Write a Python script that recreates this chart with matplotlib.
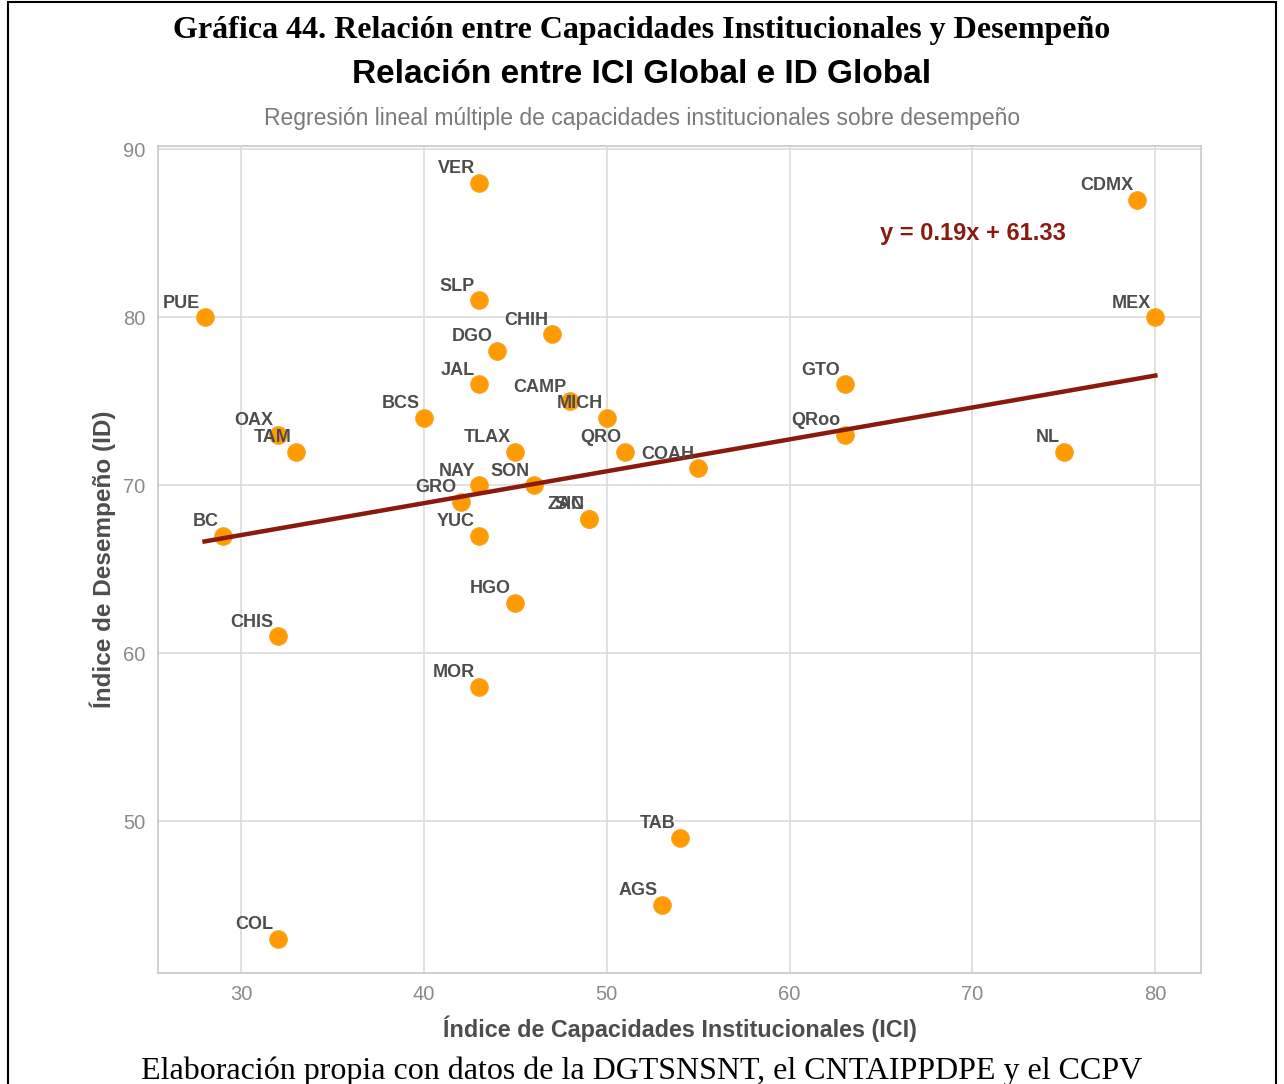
import numpy as np
import matplotlib
matplotlib.use("Agg")
import matplotlib.pyplot as plt
from matplotlib.patches import Rectangle

# state abbreviations, ICI (x) and ID (y)
states = ["VER", "CDMX", "SLP", "PUE", "MEX", "CHIH", "DGO", "JAL", "GTO", "CAMP",
          "BCS", "MICH", "OAX", "QRoo", "TAM", "TLAX", "QRO", "NL", "COAH", "NAY",
          "SON", "GRO", "ZAC", "SIN", "BC", "YUC", "HGO", "CHIS", "MOR", "TAB",
          "AGS", "COL"]
ici = [43, 79, 43, 28, 80, 47, 44, 43, 63, 48,
       40, 50, 32, 63, 33, 45, 51, 75, 55, 43,
       46, 42, 49, 49, 29, 43, 45, 32, 43, 54,
       53, 32]
id_ = [88, 87, 81, 80, 80, 79, 78, 76, 76, 75,
       74, 74, 73, 73, 72, 72, 72, 72, 71, 70,
       70, 69, 68, 68, 67, 67, 63, 61, 58, 49,
       45, 43]
slope, intercept = 0.19, 61.33

xticks = [30, 40, 50, 60, 70, 80]
yticks = [50, 60, 70, 80, 90]

GRAY_TXT = "#4d4d4d"
ORANGE = "#FF9A00"
RED = "#8B1A0E"

fig = plt.figure(figsize=(12.84, 10.84), dpi=100)
ax = fig.add_axes([0.123, 0.1024, 0.8124, 0.7629])

x = np.array(ici, dtype=float)
y = np.array(id_, dtype=float)

ax.scatter(x, y, s=160, color=ORANGE, edgecolor="#F5A623", linewidth=0.8, zorder=3)
xs = np.array([x.min(), x.max()])
ax.plot(xs, slope * xs + intercept, color=RED, lw=3.2, zorder=4)

for name, xi, yi in zip(states, x, y):
    ax.annotate(name, (xi, yi), xytext=(-3, 4), textcoords="offset points",
                ha="right", va="bottom", fontsize=13, fontweight="bold",
                color=GRAY_TXT, family="Liberation Sans", zorder=5)

ax.text(70, 85, f"y = {slope:.2f}x + {intercept:.2f}", ha="center", va="center",
        fontsize=17, fontweight="bold", color=RED, family="Liberation Sans")

ax.set_xlim(25.45, 82.5)
ax.set_ylim(40.95, 90.2)
ax.set_xticks(xticks)
ax.set_yticks(yticks)
ax.grid(True, color="#dcdcdc", lw=1.2)
ax.set_axisbelow(True)
for sp in ax.spines.values():
    sp.set_color("#c8c8c8")
    sp.set_linewidth(1.2)
ax.tick_params(length=0, pad=9, labelsize=14.5, labelcolor="#8a8a8a")
for lab in ax.get_xticklabels() + ax.get_yticklabels():
    lab.set_family("Liberation Sans")

ax.set_xlabel("Índice de Capacidades Institucionales (ICI)", fontsize=16.8,
              fontweight="bold", color=GRAY_TXT, family="Liberation Sans", labelpad=8)
ax.set_ylabel("Índice de Desempeño (ID)", fontsize=17.5, fontweight="bold",
              color=GRAY_TXT, family="Liberation Sans", labelpad=5)

fig.text(0.5, 0.972, "Gráfica 44. Relación entre Capacidades Institucionales y Desempeño",
         ha="center", va="center", fontsize=23, fontweight="bold", family="Liberation Serif")
fig.text(0.5, 0.931, "Relación entre ICI Global e ID Global", ha="center", va="center",
         fontsize=24, fontweight="bold", family="Liberation Sans")
fig.text(0.5, 0.891, "Regresión lineal múltiple de capacidades institucionales sobre desempeño",
         ha="center", va="center", fontsize=16.5, color="#7a7a7a", family="Liberation Sans")
fig.text(0.5, 0.012, "Elaboración propia con datos de la DGTSNSNT, el CNTAIPPDPE y el CCPV",
         ha="center", va="center", fontsize=23, family="Liberation Serif")

# page frame around the figure
fig.patches.append(Rectangle((8 / 1284, -0.05), 1268 / 1284, 1.05 - 2 / 1084,
                             transform=fig.transFigure, fill=False,
                             edgecolor="black", lw=1.5))

fig.savefig("out.png", dpi=100)
